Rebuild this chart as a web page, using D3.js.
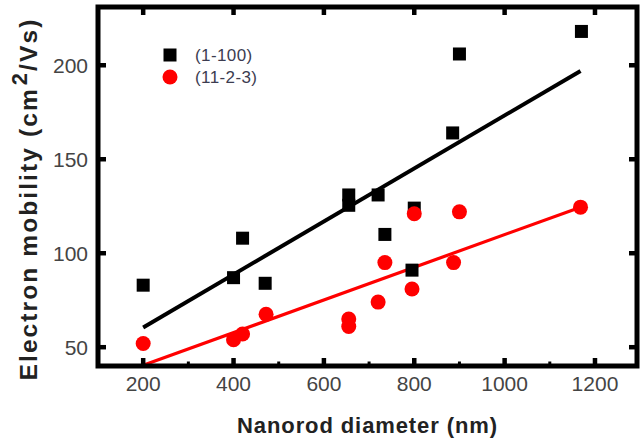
<!DOCTYPE html>
<html>
<head>
<meta charset="utf-8">
<script src="https://cdn.jsdelivr.net/npm/d3@7"></script>
<style>
html,body{margin:0;padding:0;background:#fff;}
svg{display:block;font-family:"Liberation Sans",Arial,sans-serif;}
</style>
</head>
<body>
<svg id="chart" width="640" height="441"></svg>
<script>
// Data
const seriesNames = ["(1-100)", "(11-2-3)"];
const squareX = [200, 400, 420, 470, 655, 655, 720, 735, 800, 795, 885, 900, 1170];
const squareY = [83, 87, 108, 84, 131, 125.5, 131, 110, 124, 91, 164, 206, 218];
const circleX = [200, 400, 420, 472, 655, 655, 720, 735, 795, 800, 887, 900, 1168];
const circleY = [52, 54, 57, 67.5, 65, 61, 74, 95, 81, 121, 95, 122, 124.5];
const fitBlackX = [200, 1168];
const fitBlackY = [60.5, 197];
const fitRedX = [200, 1168];
const fitRedY = [40.4, 124.5];
const xTicks = [200, 400, 600, 800, 1000, 1200];
const xMinor = [300, 500, 700, 900, 1100];
const yTicks = [50, 100, 150, 200];

const svg = d3.select("#chart");
const L = 98, R = 637, T = 7, B = 366;
const x = d3.scaleLinear().domain([100, 1293]).range([L, R]);
const y = d3.scaleLinear().domain([40, 231]).range([B, T]);

const labelColor = "#444";

// Fit lines
const line = d3.line().x(d => x(d[0])).y(d => y(d[1]));
svg.append("path").datum(d3.zip(fitBlackX, fitBlackY))
  .attr("d", line).attr("stroke", "#000").attr("stroke-width", 4).attr("fill", "none");
svg.append("path").datum(d3.zip(fitRedX, fitRedY))
  .attr("d", line).attr("stroke", "#ff0000").attr("stroke-width", 3.2).attr("fill", "none");

// Squares
const sq = 13;
svg.append("g").selectAll("rect").data(d3.zip(squareX, squareY)).join("rect")
  .attr("x", d => x(d[0]) - sq / 2).attr("y", d => y(d[1]) - sq / 2)
  .attr("width", sq).attr("height", sq).attr("fill", "#000");

// Circles
svg.append("g").selectAll("circle").data(d3.zip(circleX, circleY)).join("circle")
  .attr("cx", d => x(d[0])).attr("cy", d => y(d[1])).attr("r", 7.5).attr("fill", "#ff0000");

// Axes ticks (inward)
const g = svg.append("g");
g.selectAll(".bt").data(xTicks).join("line")
  .attr("x1", d => x(d)).attr("x2", d => x(d)).attr("y1", B).attr("y2", B - 8)
  .attr("stroke", "#000").attr("stroke-width", 4.5);
g.selectAll(".bm").data(xMinor).join("line")
  .attr("x1", d => x(d)).attr("x2", d => x(d)).attr("y1", B).attr("y2", B - 4.5)
  .attr("stroke", "#000").attr("stroke-width", 3);
g.selectAll(".tt").data(xTicks).join("line")
  .attr("x1", d => x(d)).attr("x2", d => x(d)).attr("y1", T).attr("y2", T + 8)
  .attr("stroke", "#000").attr("stroke-width", 4.5);
g.selectAll(".lt").data(yTicks).join("line")
  .attr("x1", L).attr("x2", L + 8).attr("y1", d => y(d)).attr("y2", d => y(d))
  .attr("stroke", "#000").attr("stroke-width", 4.5);
g.selectAll(".rt").data(yTicks).join("line")
  .attr("x1", R).attr("x2", R - 8).attr("y1", d => y(d)).attr("y2", d => y(d))
  .attr("stroke", "#000").attr("stroke-width", 4.5);

// Frame
svg.append("rect").attr("x", L).attr("y", T).attr("width", R - L).attr("height", B - T)
  .attr("fill", "none").attr("stroke", "#000").attr("stroke-width", 5);

// Tick labels
svg.append("g").selectAll("text").data(xTicks).join("text")
  .attr("x", d => x(d)).attr("y", 391).attr("text-anchor", "middle")
  .attr("font-size", 21).attr("fill", labelColor).text(d => d);
svg.append("g").selectAll("text").data(yTicks).join("text")
  .attr("x", 88).attr("y", d => y(d) + 7.5).attr("text-anchor", "end")
  .attr("font-size", 21).attr("fill", labelColor).text(d => d);

// Axis titles
svg.append("text").attr("x", (L + R) / 2).attr("y", 433).attr("text-anchor", "middle")
  .attr("font-size", 22).attr("font-weight", "bold").attr("fill", "#222")
  .attr("letter-spacing", 0.9)
  .text("Nanorod diameter (nm)");

const yt = svg.append("text").attr("transform", "translate(37,199) rotate(-90)")
  .attr("text-anchor", "middle").attr("font-size", 24.5).attr("font-weight", "bold").attr("fill", "#222")
  .attr("letter-spacing", 2.1);
yt.append("tspan").text("Electron mobility (cm");
yt.append("tspan").attr("dy", -10).attr("dx", 2).attr("font-size", 22).text("2");
yt.append("tspan").attr("dy", 10).text("/Vs)");

// Legend
const lg = svg.append("g");
lg.append("rect").attr("x", 170 - 6.5).attr("y", 55 - 6.5).attr("width", 13).attr("height", 13).attr("fill", "#000");
lg.append("circle").attr("cx", 170).attr("cy", 77).attr("r", 7.5).attr("fill", "#ff0000");
lg.append("text").attr("x", 195).attr("y", 61).attr("font-size", 17).attr("letter-spacing", 0.4).attr("fill", "#3c3c50").text(seriesNames[0]);
lg.append("text").attr("x", 195).attr("y", 83).attr("font-size", 17).attr("letter-spacing", 0.4).attr("fill", "#3c3c50").text(seriesNames[1]);
</script>
</body>
</html>
